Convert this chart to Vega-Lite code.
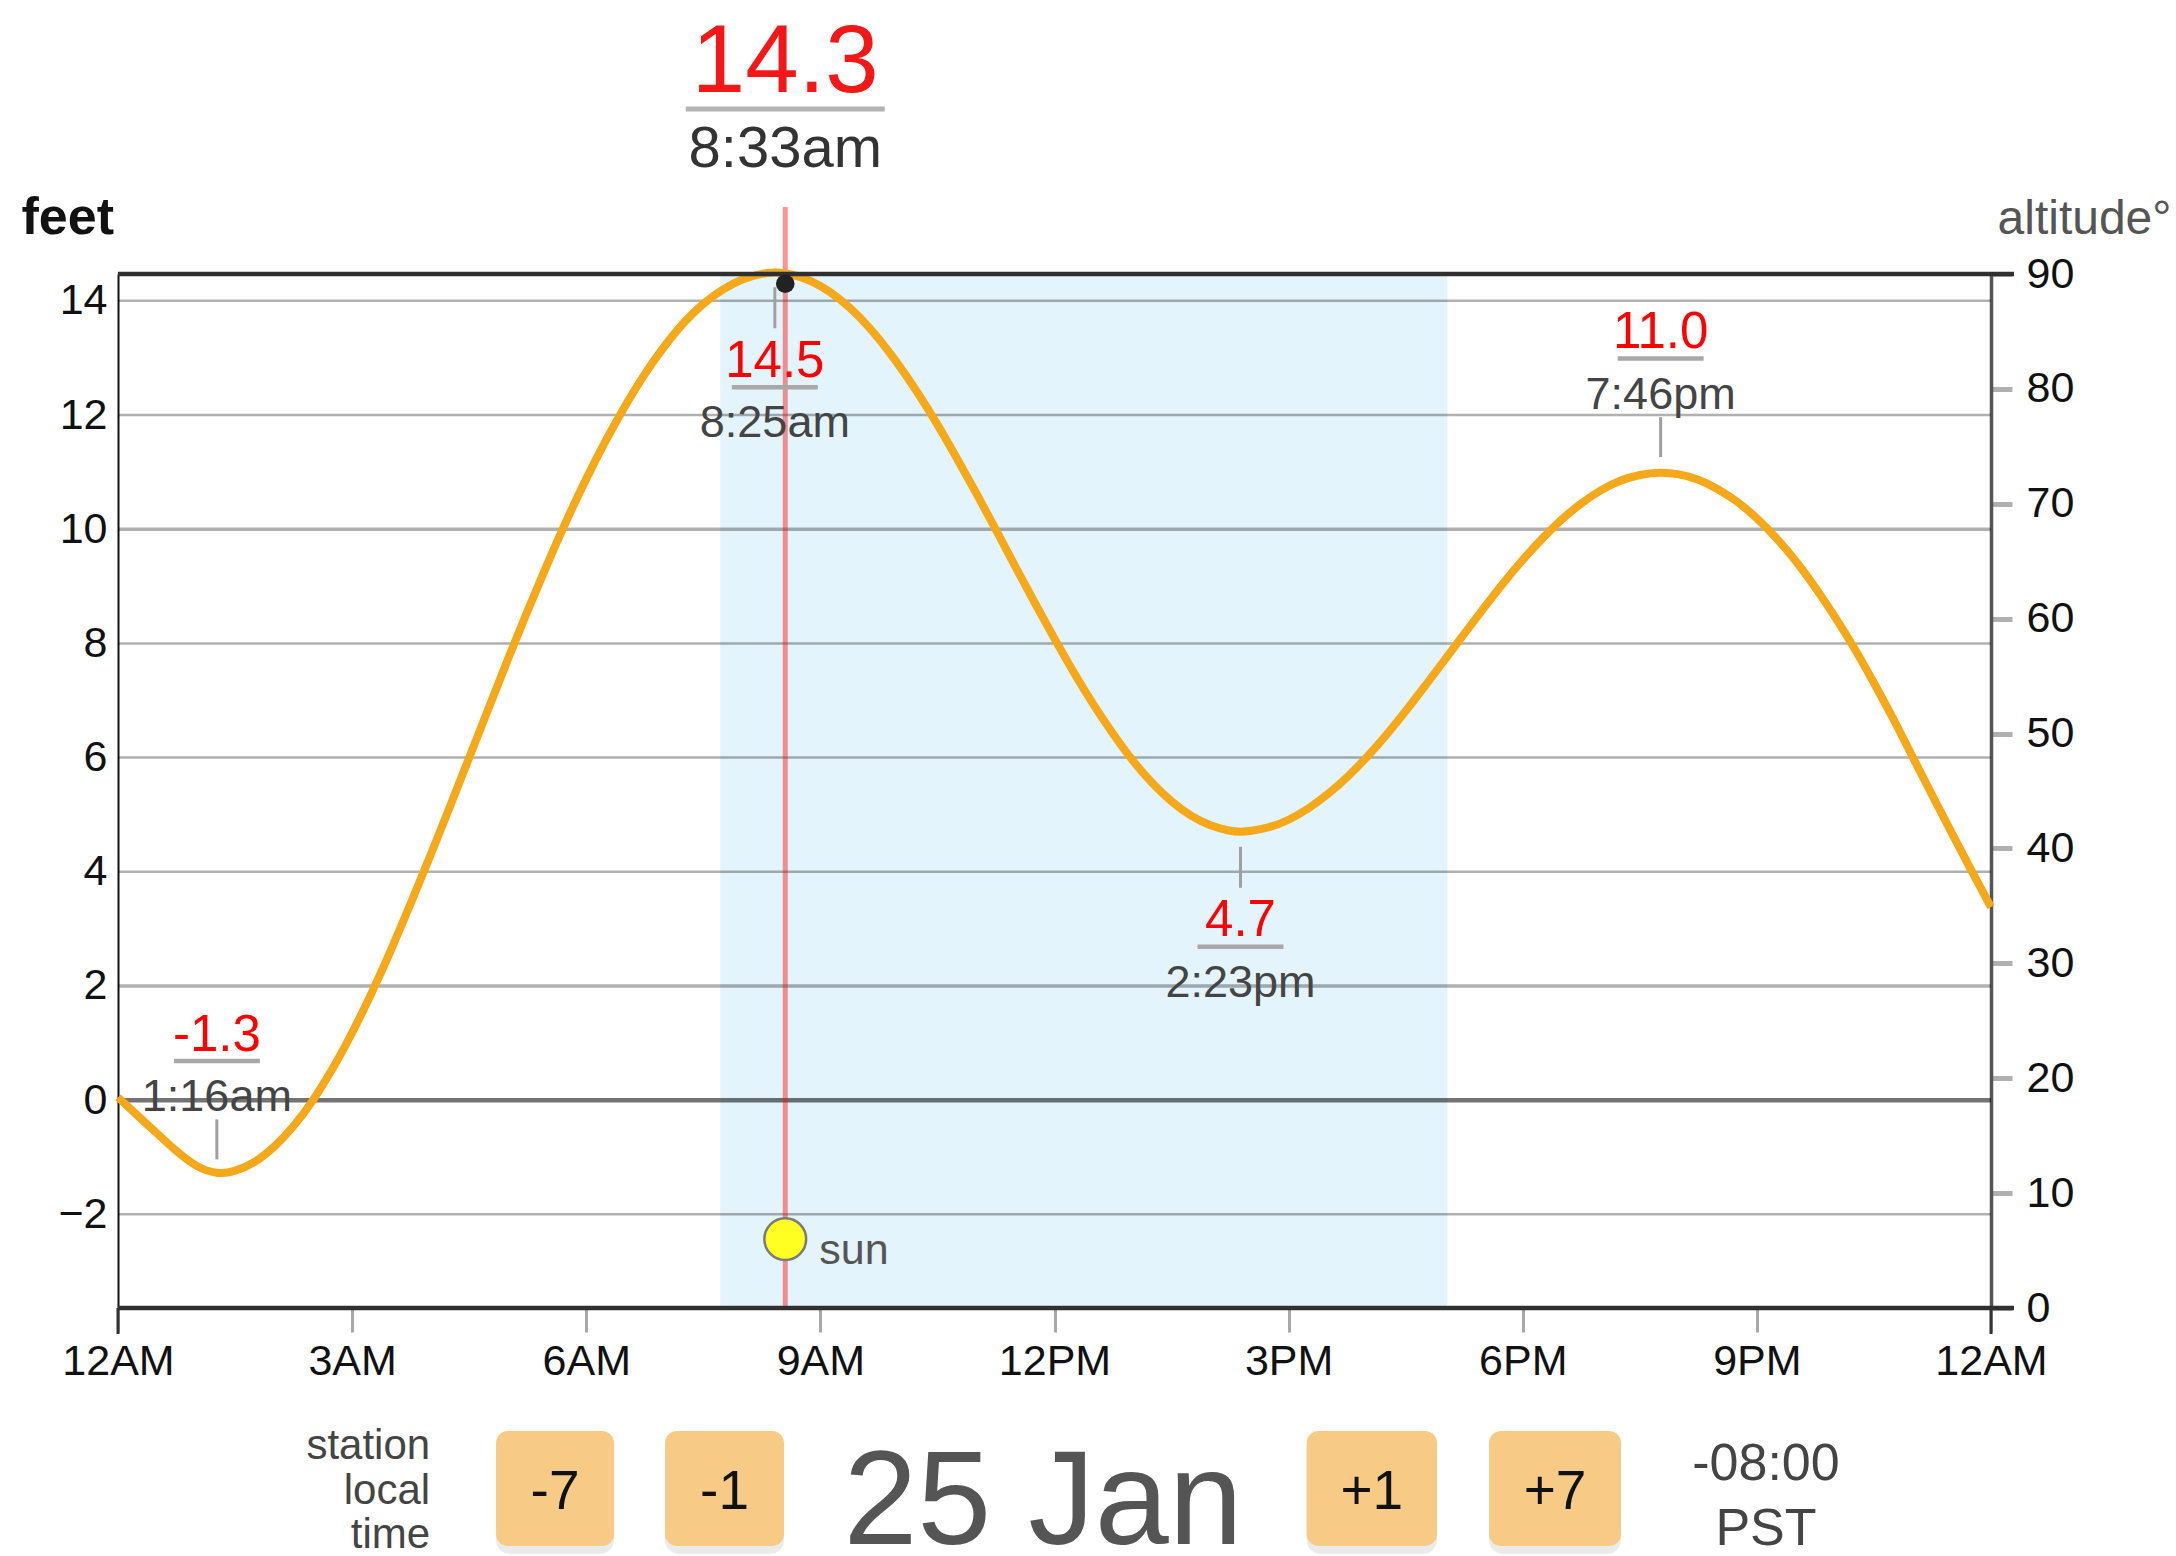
{
  "$schema": "https://vega.github.io/schema/vega-lite/v6.json",
  "width": 1873,
  "height": 1034,
  "autosize": {"type": "none"},
  "padding": {"left": 118, "top": 274, "right": 185, "bottom": 248},
  "background": "white",
  "config": {"view": {"stroke": null}, "font": "Liberation Sans"},
  "datasets": {
    "tide": [
      {"time": "2024-01-25T00:00:00", "ft": 0.05},
      {"time": "2024-01-25T00:15:00", "ft": -0.27},
      {"time": "2024-01-25T00:30:00", "ft": -0.58},
      {"time": "2024-01-25T00:45:00", "ft": -0.9},
      {"time": "2024-01-25T01:00:00", "ft": -1.17},
      {"time": "2024-01-25T01:16:00", "ft": -1.3},
      {"time": "2024-01-25T01:30:00", "ft": -1.25},
      {"time": "2024-01-25T01:45:00", "ft": -1.1},
      {"time": "2024-01-25T02:00:00", "ft": -0.83},
      {"time": "2024-01-25T02:15:00", "ft": -0.47},
      {"time": "2024-01-25T02:30:00", "ft": -0.01},
      {"time": "2024-01-25T02:45:00", "ft": 0.54},
      {"time": "2024-01-25T03:00:00", "ft": 1.17},
      {"time": "2024-01-25T03:15:00", "ft": 1.87},
      {"time": "2024-01-25T03:30:00", "ft": 2.63},
      {"time": "2024-01-25T03:45:00", "ft": 3.44},
      {"time": "2024-01-25T04:00:00", "ft": 4.27},
      {"time": "2024-01-25T04:15:00", "ft": 5.13},
      {"time": "2024-01-25T04:30:00", "ft": 6.0},
      {"time": "2024-01-25T04:45:00", "ft": 6.87},
      {"time": "2024-01-25T05:00:00", "ft": 7.74},
      {"time": "2024-01-25T05:15:00", "ft": 8.58},
      {"time": "2024-01-25T05:30:00", "ft": 9.39},
      {"time": "2024-01-25T05:45:00", "ft": 10.17},
      {"time": "2024-01-25T06:00:00", "ft": 10.89},
      {"time": "2024-01-25T06:15:00", "ft": 11.56},
      {"time": "2024-01-25T06:30:00", "ft": 12.17},
      {"time": "2024-01-25T06:45:00", "ft": 12.73},
      {"time": "2024-01-25T07:00:00", "ft": 13.21},
      {"time": "2024-01-25T07:15:00", "ft": 13.63},
      {"time": "2024-01-25T07:30:00", "ft": 13.96},
      {"time": "2024-01-25T07:45:00", "ft": 14.21},
      {"time": "2024-01-25T08:00:00", "ft": 14.39},
      {"time": "2024-01-25T08:15:00", "ft": 14.48},
      {"time": "2024-01-25T08:25:00", "ft": 14.5},
      {"time": "2024-01-25T08:30:00", "ft": 14.5},
      {"time": "2024-01-25T08:45:00", "ft": 14.43},
      {"time": "2024-01-25T09:00:00", "ft": 14.27},
      {"time": "2024-01-25T09:15:00", "ft": 14.04},
      {"time": "2024-01-25T09:30:00", "ft": 13.73},
      {"time": "2024-01-25T09:45:00", "ft": 13.34},
      {"time": "2024-01-25T10:00:00", "ft": 12.89},
      {"time": "2024-01-25T10:15:00", "ft": 12.39},
      {"time": "2024-01-25T10:30:00", "ft": 11.84},
      {"time": "2024-01-25T10:45:00", "ft": 11.24},
      {"time": "2024-01-25T11:00:00", "ft": 10.63},
      {"time": "2024-01-25T11:15:00", "ft": 9.99},
      {"time": "2024-01-25T11:30:00", "ft": 9.34},
      {"time": "2024-01-25T11:45:00", "ft": 8.7},
      {"time": "2024-01-25T12:00:00", "ft": 8.08},
      {"time": "2024-01-25T12:15:00", "ft": 7.48},
      {"time": "2024-01-25T12:30:00", "ft": 6.92},
      {"time": "2024-01-25T12:45:00", "ft": 6.41},
      {"time": "2024-01-25T13:00:00", "ft": 5.94},
      {"time": "2024-01-25T13:15:00", "ft": 5.55},
      {"time": "2024-01-25T13:30:00", "ft": 5.22},
      {"time": "2024-01-25T13:45:00", "ft": 4.97},
      {"time": "2024-01-25T14:00:00", "ft": 4.8},
      {"time": "2024-01-25T14:15:00", "ft": 4.71},
      {"time": "2024-01-25T14:23:00", "ft": 4.7},
      {"time": "2024-01-25T14:30:00", "ft": 4.71},
      {"time": "2024-01-25T14:45:00", "ft": 4.77},
      {"time": "2024-01-25T15:00:00", "ft": 4.9},
      {"time": "2024-01-25T15:15:00", "ft": 5.1},
      {"time": "2024-01-25T15:30:00", "ft": 5.35},
      {"time": "2024-01-25T15:45:00", "ft": 5.65},
      {"time": "2024-01-25T16:00:00", "ft": 6.0},
      {"time": "2024-01-25T16:15:00", "ft": 6.39},
      {"time": "2024-01-25T16:30:00", "ft": 6.81},
      {"time": "2024-01-25T16:45:00", "ft": 7.26},
      {"time": "2024-01-25T17:00:00", "ft": 7.71},
      {"time": "2024-01-25T17:15:00", "ft": 8.17},
      {"time": "2024-01-25T17:30:00", "ft": 8.62},
      {"time": "2024-01-25T17:45:00", "ft": 9.06},
      {"time": "2024-01-25T18:00:00", "ft": 9.47},
      {"time": "2024-01-25T18:15:00", "ft": 9.84},
      {"time": "2024-01-25T18:30:00", "ft": 10.18},
      {"time": "2024-01-25T18:45:00", "ft": 10.46},
      {"time": "2024-01-25T19:00:00", "ft": 10.69},
      {"time": "2024-01-25T19:15:00", "ft": 10.86},
      {"time": "2024-01-25T19:30:00", "ft": 10.96},
      {"time": "2024-01-25T19:46:00", "ft": 11.0},
      {"time": "2024-01-25T20:00:00", "ft": 10.97},
      {"time": "2024-01-25T20:15:00", "ft": 10.88},
      {"time": "2024-01-25T20:30:00", "ft": 10.71},
      {"time": "2024-01-25T20:45:00", "ft": 10.49},
      {"time": "2024-01-25T21:00:00", "ft": 10.2},
      {"time": "2024-01-25T21:15:00", "ft": 9.85},
      {"time": "2024-01-25T21:30:00", "ft": 9.45},
      {"time": "2024-01-25T21:45:00", "ft": 8.98},
      {"time": "2024-01-25T22:00:00", "ft": 8.47},
      {"time": "2024-01-25T22:15:00", "ft": 7.92},
      {"time": "2024-01-25T22:30:00", "ft": 7.31},
      {"time": "2024-01-25T22:45:00", "ft": 6.68},
      {"time": "2024-01-25T23:00:00", "ft": 6.0},
      {"time": "2024-01-25T23:15:00", "ft": 5.33},
      {"time": "2024-01-25T23:30:00", "ft": 4.67},
      {"time": "2024-01-25T23:45:00", "ft": 4.02},
      {"time": "2024-01-26T00:00:00", "ft": 3.38}
    ],
    "extremes": [
      {"time": "2024-01-25T01:16:00", "ft": -1.3, "value": "-1.3", "clock": "1:16am"},
      {"time": "2024-01-25T08:25:00", "ft": 14.5, "value": "14.5", "clock": "8:25am"},
      {"time": "2024-01-25T14:23:00", "ft": 4.7, "value": "4.7", "clock": "2:23pm"},
      {"time": "2024-01-25T19:46:00", "ft": 11.0, "value": "11.0", "clock": "7:46pm"}
    ],
    "daylight": [{"sunrise": "2024-01-25T07:43:00", "sunset": "2024-01-25T17:02:00"}],
    "grid": [{"ft": -2}, {"ft": 0}, {"ft": 2}, {"ft": 4}, {"ft": 6}, {"ft": 8}, {"ft": 10}, {"ft": 12}, {"ft": 14}],
    "frame": [{"ft": 14.47}, {"ft": -3.64}],
    "edges": [{"time": "2024-01-25T00:00:00"}, {"time": "2024-01-26T00:00:00"}],
    "now": [{"time": "2024-01-25T08:33:00", "ft": 14.3, "altitude": 6.0, "value": "14.3", "clock": "8:33am"}],
    "buttons": [
      {"label": "-7", "start": "2024-01-25T04:50:38", "end": "2024-01-25T06:21:21", "center": "2024-01-25T05:36:00"},
      {"label": "-1", "start": "2024-01-25T07:00:33", "end": "2024-01-25T08:32:02", "center": "2024-01-25T07:46:18"},
      {"label": "+1", "start": "2024-01-25T15:13:51", "end": "2024-01-25T16:54:04", "center": "2024-01-25T16:03:58"},
      {"label": "+7", "start": "2024-01-25T17:34:05", "end": "2024-01-25T19:15:32", "center": "2024-01-25T18:24:48"}
    ],
    "stationLabel": [{"label": "station\nlocal\ntime", "time": "2024-01-25T04:00:00"}],
    "dateLabel": [{"label": "25 Jan", "time": "2024-01-25T11:51:11"}],
    "zoneLabel": [{"label": "-08:00\nPST", "time": "2024-01-25T21:07:00"}]
  },
  "layer": [
    {
      "resolve": {"axis": {"x": "independent", "y": "independent"}},
      "layer": [
        {
          "data": {"name": "daylight"},
          "mark": {"type": "rect", "color": "#e3f4fc"},
          "encoding": {
            "x": {
              "field": "sunrise", "type": "temporal",
              "scale": {"domain": [{"year": 2024, "month": 1, "date": 25, "hours": 0}, {"year": 2024, "month": 1, "date": 26, "hours": 0}]},
              "axis": {
                "orient": "bottom", "title": null, "format": "%-I%p",
                "values": [
                  {"year": 2024, "month": 1, "date": 25, "hours": 0},
                  {"year": 2024, "month": 1, "date": 25, "hours": 3},
                  {"year": 2024, "month": 1, "date": 25, "hours": 6},
                  {"year": 2024, "month": 1, "date": 25, "hours": 9},
                  {"year": 2024, "month": 1, "date": 25, "hours": 12},
                  {"year": 2024, "month": 1, "date": 25, "hours": 15},
                  {"year": 2024, "month": 1, "date": 25, "hours": 18},
                  {"year": 2024, "month": 1, "date": 25, "hours": 21},
                  {"year": 2024, "month": 1, "date": 26, "hours": 0}
                ],
                "domain": false, "grid": false,
                "tickSize": 24, "tickColor": "#a8a8a8", "tickWidth": 3,
                "labelPadding": 8, "labelFontSize": 43, "labelColor": "#111111",
                "labelFlush": false, "labelOverlap": false
              }
            },
            "x2": {"field": "sunset"}
          }
        },
        {
          "data": {"name": "grid"},
          "mark": {"type": "rule", "color": "#000000"},
          "encoding": {
            "y": {
              "field": "ft", "type": "quantitative",
              "scale": {"domain": [-3.64, 14.47], "nice": false, "zero": false},
              "axis": {
                "orient": "left", "values": [-2, 0, 2, 4, 6, 8, 10, 12, 14], "format": "d",
                "ticks": false, "tickSize": 0, "grid": false,
                "domainColor": "#111111", "domainWidth": 2,
                "labelPadding": 11, "labelFontSize": 43, "labelColor": "#111111",
                "title": "feet", "titleAngle": 0, "titleAlign": "left", "titleBaseline": "alphabetic",
                "titleX": -97, "titleY": -41, "titleFontSize": 52, "titleFontWeight": "bold", "titleColor": "#111111"
              }
            },
            "opacity": {"condition": {"test": "datum.ft === 0", "value": 0.55}, "value": 0.31},
            "strokeWidth": {"condition": [{"test": "datum.ft === 0", "value": 4.5}, {"test": "datum.ft === 10 || datum.ft === 2", "value": 3.5}], "value": 2.5}
          }
        },
        {
          "data": {"name": "now"},
          "mark": {"type": "rule", "color": "#ff0000", "opacity": 0.42, "strokeWidth": 5, "y2Offset": -67},
          "encoding": {
            "x": {"field": "time", "type": "temporal", "axis": null},
            "y": {"datum": -3.64, "type": "quantitative", "scale": {"domain": [-3.64, 14.47], "nice": false, "zero": false}, "axis": null},
            "y2": {"datum": 14.47}
          }
        },
        {
          "data": {"name": "tide"},
          "mark": {"type": "line", "color": "#f4a81a", "strokeWidth": 8, "interpolate": "basis"},
          "encoding": {
            "x": {"field": "time", "type": "temporal", "axis": null},
            "y": {"field": "ft", "type": "quantitative", "scale": {"domain": [-3.64, 14.47], "nice": false, "zero": false}, "axis": null}
          }
        },
        {
          "data": {"name": "frame"},
          "mark": {"type": "rule", "color": "#303030", "strokeWidth": 4.5, "x2Offset": 23},
          "encoding": {
            "x": {"datum": {"year": 2024, "month": 1, "date": 25, "hours": 0}, "type": "temporal", "axis": null},
            "x2": {"datum": {"year": 2024, "month": 1, "date": 26, "hours": 0}},
            "y": {"field": "ft", "type": "quantitative", "scale": {"domain": [-3.64, 14.47], "nice": false, "zero": false}, "axis": null}
          }
        },
        {
          "data": {"name": "edges"},
          "mark": {"type": "rule", "color": "#333333", "strokeWidth": 3, "y2Offset": 26},
          "encoding": {
            "x": {"field": "time", "type": "temporal", "axis": null},
            "y": {"datum": -3.64, "type": "quantitative", "scale": {"domain": [-3.64, 14.47], "nice": false, "zero": false}, "axis": null},
            "y2": {"datum": -3.64}
          }
        },
        {
          "data": {"name": "extremes"},
          "transform": [{"filter": "indexof(['8:25am','2:23pm'], datum.clock) >= 0"}],
          "layer": [
            {
              "mark": {"type": "rule", "color": "#a0a0a0", "strokeWidth": 3, "yOffset": 15, "y2Offset": 56},
              "encoding": {"y2": {"field": "ft"}}
            },
            {
              "mark": {"type": "text", "color": "#ff0000", "fontSize": 51, "align": "center", "baseline": "alphabetic", "dy": 104.5},
              "encoding": {"text": {"field": "value"}}
            },
            {
              "mark": {"type": "tick", "orient": "horizontal", "color": "#a8a8a8", "size": 86, "thickness": 4.5, "opacity": 1, "yOffset": 115},
              "encoding": {}
            },
            {
              "mark": {"type": "text", "color": "#444444", "fontSize": 45, "align": "center", "baseline": "alphabetic", "dy": 165},
              "encoding": {"text": {"field": "clock"}}
            }
          ],
          "encoding": {
            "x": {"field": "time", "type": "temporal", "axis": null},
            "y": {"field": "ft", "type": "quantitative", "scale": {"domain": [-3.64, 14.47], "nice": false, "zero": false}, "axis": null}
          }
        },
        {
          "data": {"name": "extremes"},
          "transform": [{"filter": "indexof(['1:16am','7:46pm'], datum.clock) >= 0"}],
          "layer": [
            {
              "mark": {"type": "rule", "color": "#a0a0a0", "strokeWidth": 3, "yOffset": -55, "y2Offset": -15},
              "encoding": {"y2": {"field": "ft"}}
            },
            {
              "mark": {"type": "text", "color": "#ff0000", "fontSize": 51, "align": "center", "baseline": "alphabetic", "dy": -123.7},
              "encoding": {"text": {"field": "value"}}
            },
            {
              "mark": {"type": "tick", "orient": "horizontal", "color": "#a8a8a8", "size": 86, "thickness": 4.5, "opacity": 1, "yOffset": -113.5},
              "encoding": {}
            },
            {
              "mark": {"type": "text", "color": "#444444", "fontSize": 45, "align": "center", "baseline": "alphabetic", "dy": -63},
              "encoding": {"text": {"field": "clock"}}
            }
          ],
          "encoding": {
            "x": {"field": "time", "type": "temporal", "axis": null},
            "y": {"field": "ft", "type": "quantitative", "scale": {"domain": [-3.64, 14.47], "nice": false, "zero": false}, "axis": null}
          }
        },
        {
          "data": {"name": "now"},
          "layer": [
            {
              "mark": {"type": "point", "shape": "circle", "filled": true, "color": "#222222", "size": 346, "opacity": 1}
            },
            {
              "mark": {"type": "text", "color": "#f21818", "fontSize": 96, "align": "center", "baseline": "alphabetic", "dy": -192},
              "encoding": {"text": {"field": "value"}}
            },
            {
              "mark": {"type": "tick", "orient": "horizontal", "color": "#b4b4b4", "size": 199, "thickness": 5, "opacity": 1, "yOffset": -174.7},
              "encoding": {}
            },
            {
              "mark": {"type": "text", "color": "#333333", "fontSize": 58, "align": "center", "baseline": "alphabetic", "dy": -116.7},
              "encoding": {"text": {"field": "clock"}}
            }
          ],
          "encoding": {
            "x": {"field": "time", "type": "temporal", "axis": null},
            "y": {"field": "ft", "type": "quantitative", "scale": {"domain": [-3.64, 14.47], "nice": false, "zero": false}, "axis": null}
          }
        },
        {
          "data": {"name": "buttons"},
          "layer": [
            {
              "mark": {"type": "rect", "color": "#000000", "opacity": 0.08, "cornerRadius": 14, "yOffset": 127, "y2Offset": 246},
              "encoding": {
                "x": {"field": "start", "type": "temporal", "axis": null},
                "x2": {"field": "end"},
                "y": {"datum": -3.64, "type": "quantitative", "scale": {"domain": [-3.64, 14.47], "nice": false, "zero": false}, "axis": null},
                "y2": {"datum": -3.64}
              }
            },
            {
              "mark": {"type": "rect", "color": "#f7cb86", "opacity": 1, "cornerRadius": 12, "yOffset": 123, "y2Offset": 238},
              "encoding": {
                "x": {"field": "start", "type": "temporal", "axis": null},
                "x2": {"field": "end"},
                "y": {"datum": -3.64, "type": "quantitative", "scale": {"domain": [-3.64, 14.47], "nice": false, "zero": false}, "axis": null},
                "y2": {"datum": -3.64}
              }
            },
            {
              "mark": {"type": "text", "color": "#111111", "fontSize": 55, "align": "center", "baseline": "alphabetic", "dy": 201},
              "encoding": {
                "x": {"field": "center", "type": "temporal", "axis": null},
                "y": {"datum": -3.64, "type": "quantitative", "scale": {"domain": [-3.64, 14.47], "nice": false, "zero": false}, "axis": null},
                "text": {"field": "label"}
              }
            }
          ]
        },
        {
          "data": {"name": "stationLabel"},
          "mark": {"type": "text", "color": "#444444", "fontSize": 42, "align": "right", "baseline": "alphabetic", "dy": 151, "lineBreak": "\n", "lineHeight": 44.5},
          "encoding": {
            "x": {"field": "time", "type": "temporal", "axis": null},
            "y": {"datum": -3.64, "type": "quantitative", "scale": {"domain": [-3.64, 14.47], "nice": false, "zero": false}, "axis": null},
            "text": {"field": "label"}
          }
        },
        {
          "data": {"name": "dateLabel"},
          "mark": {"type": "text", "color": "#555555", "fontSize": 133, "align": "center", "baseline": "alphabetic", "dy": 236},
          "encoding": {
            "x": {"field": "time", "type": "temporal", "axis": null},
            "y": {"datum": -3.64, "type": "quantitative", "scale": {"domain": [-3.64, 14.47], "nice": false, "zero": false}, "axis": null},
            "text": {"field": "label"}
          }
        },
        {
          "data": {"name": "zoneLabel"},
          "mark": {"type": "text", "color": "#444444", "fontSize": 52, "align": "center", "baseline": "alphabetic", "dy": 172, "lineBreak": "\n", "lineHeight": 65},
          "encoding": {
            "x": {"field": "time", "type": "temporal", "axis": null},
            "y": {"datum": -3.64, "type": "quantitative", "scale": {"domain": [-3.64, 14.47], "nice": false, "zero": false}, "axis": null},
            "text": {"field": "label"}
          }
        }
      ]
    },
    {
      "data": {"name": "now"},
      "layer": [
        {
          "mark": {"type": "point", "shape": "circle", "filled": true, "fill": "#ffff22", "stroke": "#7a7a7a", "strokeWidth": 2.5, "size": 1750, "opacity": 1},
          "encoding": {
            "y": {
              "field": "altitude", "type": "quantitative",
              "scale": {"domain": [0, 90], "nice": false, "zero": false},
              "axis": {
                "orient": "right", "values": [0, 10, 20, 30, 40, 50, 60, 70, 80, 90], "grid": false,
                "domainColor": "#555555", "domainWidth": 3.5,
                "tickColor": "#b0b0b0", "tickWidth": 5, "tickSize": 21,
                "labelPadding": 14, "labelFontSize": 43, "labelColor": "#111111",
                "title": "altitude°", "titleAngle": 0, "titleAlign": "right", "titleBaseline": "alphabetic",
                "titleX": 180, "titleY": -41, "titleFontSize": 48, "titleFontWeight": "normal", "titleColor": "#555555"
              }
            }
          }
        },
        {
          "mark": {"type": "text", "color": "#555555", "fontSize": 43, "align": "left", "baseline": "alphabetic", "dx": 34, "dy": 25, "text": "sun"},
          "encoding": {
            "y": {"field": "altitude", "type": "quantitative", "scale": {"domain": [0, 90], "nice": false, "zero": false}}
          }
        }
      ],
      "encoding": {
        "x": {"field": "time", "type": "temporal", "axis": null}
      }
    }
  ],
  "resolve": {"scale": {"y": "independent"}, "axis": {"x": "independent", "y": "independent"}}
}
